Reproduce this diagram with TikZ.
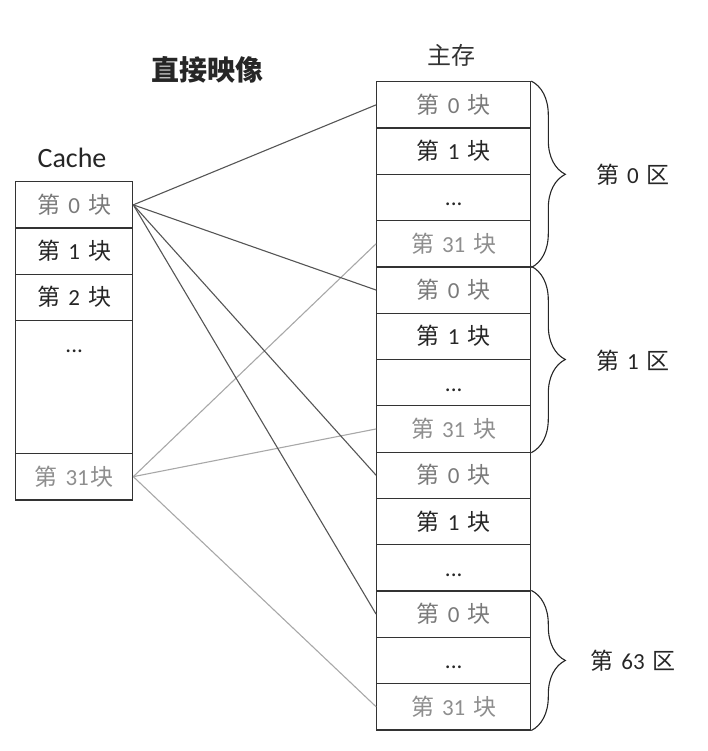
\documentclass[tikz,border=0pt]{standalone}
\usepackage{fontspec}
\setmainfont{Carlito}
\newfontfamily\cjk{Noto Sans CJK SC}
\usetikzlibrary{decorations.pathreplacing}
\definecolor{boxc}{HTML}{333333}
\definecolor{tgray}{HTML}{7A7A7A}
\definecolor{tlight}{HTML}{8E8E8E}
\definecolor{tdark}{HTML}{262626}
\definecolor{ldark}{HTML}{555555}
\definecolor{llight}{HTML}{A8A8A8}
\newcommand\kuai[2][8pt]{{\cjk 第}\hspace{8pt}#2\hspace{#1}{\cjk 块}}
\newcommand\qu[1]{{\cjk 第}\hspace{8pt}#1\hspace{8pt}{\cjk 区}}
\begin{document}
\begin{tikzpicture}[x=1pt,y=1pt,
  txt/.style={font=\fontsize{23}{23}\selectfont, inner sep=0pt, text height=20pt, text depth=3pt},
  blk/.style={txt, draw=boxc, line width=1.2pt, minimum width=154pt, minimum height=46.3pt},
  cblk/.style={txt, draw=boxc, line width=1.2pt, minimum width=117pt, minimum height=46.3pt},
  gtext/.style={text=tgray},
  ltext/.style={text=tlight},
  dtext/.style={text=tdark},
  conA/.style={draw=ldark, line width=1.1pt},
  conB/.style={draw=llight, line width=1.1pt},
  bracestyle/.style={draw=tdark, line width=1.1pt, decorate, decoration={brace, amplitude=34pt}},
  qulabel/.style={font=\fontsize{23}{23}\selectfont, text=tdark, inner sep=0pt}
]
\useasboundingbox (0,0) rectangle (707,-751);

% title and headings
\node[font=\cjk\bfseries\fontsize{28}{28}\selectfont, text=tdark] (title) at (207.5,-70) {直接映像};
\node[font=\fontsize{28}{28}\selectfont, text=tdark] (cachelbl) at (72,-158) {Cache};
\node[font=\cjk\fontsize{24}{24}\selectfont, text=boxc] (mainlbl) at (451,-55) {主存};

% cache
\node[cblk, gtext] (c0) at (74.2,-204.85) {\kuai{0}};
\node[cblk, dtext] (c1) at (74.2,-251.15) {\kuai{1}};
\node[cblk, dtext] (c2) at (74.2,-297.45) {\kuai{2}};
\node[cblk, minimum height=132.7pt] (cdots) at (74.2,-387) {};
\node[txt, dtext] (cdotstxt) at (74.2,-343.7) {...};
\node[cblk, ltext, minimum height=46.7pt] (c31) at (74.2,-476.65) {\kuai[2pt]{31}};

% main memory
\node[blk, gtext] (m0)  at (453.7,-104.85) {\kuai{0}};
\node[blk, dtext] (m1)  at (453.7,-151.15) {\kuai{1}};
\node[blk, dtext] (m2)  at (453.7,-197.45) {...};
\node[blk, ltext] (m3)  at (453.7,-243.75) {\kuai{31}};
\node[blk, gtext] (m4)  at (453.7,-290.05) {\kuai{0}};
\node[blk, dtext] (m5)  at (453.7,-336.35) {\kuai{1}};
\node[blk, dtext] (m6)  at (453.7,-382.65) {...};
\node[blk, ltext] (m7)  at (453.7,-428.95) {\kuai{31}};
\node[blk, gtext] (m8)  at (453.7,-475.25) {\kuai{0}};
\node[blk, dtext] (m9)  at (453.7,-521.55) {\kuai{1}};
\node[blk, dtext] (m10) at (453.7,-567.85) {...};
\node[blk, gtext] (m11) at (453.7,-614.15) {\kuai{0}};
\node[blk, dtext] (m12) at (453.7,-660.45) {...};
\node[blk, ltext] (m13) at (453.7,-706.75) {\kuai{31}};

% braces
\draw[bracestyle] (m0.north east) -- (m3.south east);
\draw[bracestyle] (m4.north east) -- (m7.south east);
\draw[bracestyle] (m11.north east) -- (m13.south east);
\node[qulabel] (q0) at (633,-175) {\qu{0}};
\node[qulabel] (q1) at (633,-361) {\qu{1}};
\node[qulabel] (q63) at (633,-661) {\qu{63}};

% connectors
\draw[conB] (c31.east) -- (m3.west);
\draw[conB] (c31.east) -- (m7.west);
\draw[conB] (c31.east) -- (m13.west);
\draw[conA] (c0.east) -- (m0.west);
\draw[conA] (c0.east) -- (m4.west);
\draw[conA] (c0.east) -- (m8.west);
\draw[conA] (c0.east) -- (m11.west);
\end{tikzpicture}
\end{document}
